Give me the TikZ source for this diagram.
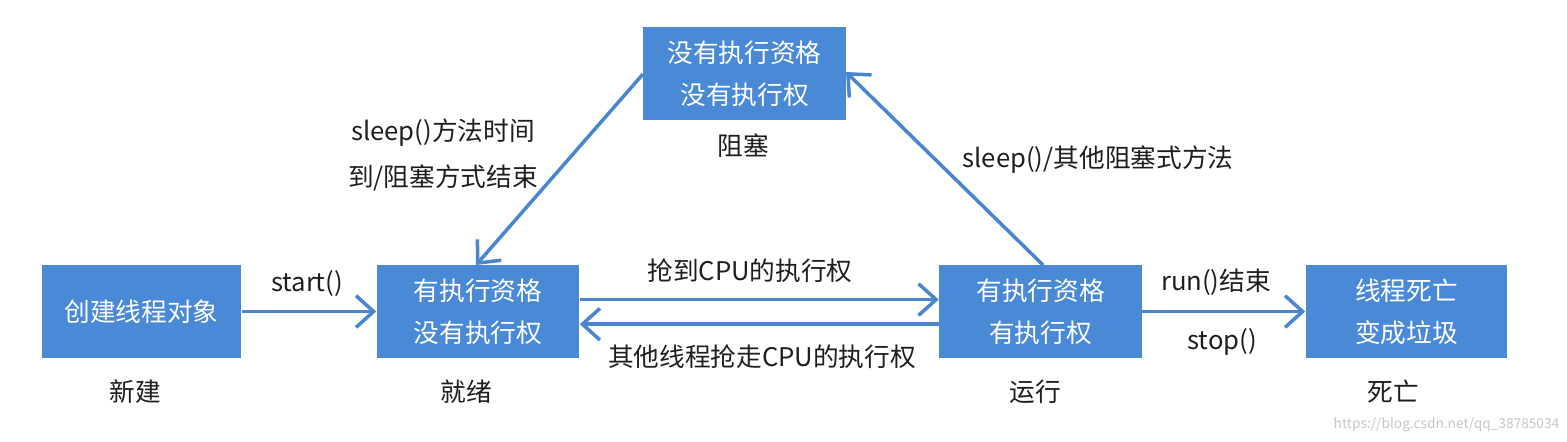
\documentclass[tikz,border=0pt]{standalone}
\usepackage{fontspec}
\setmainfont{Noto Sans CJK SC}
\usetikzlibrary{arrows.meta}
\definecolor{boxblue}{RGB}{74,137,214}
\definecolor{lineblue}{RGB}{74,134,208}
\definecolor{txt}{RGB}{30,30,30}
\tikzset{
  state/.style={draw=none,fill=boxblue,text=white,minimum width=2.02cm,minimum height=0.93cm,
    align=center,inner sep=0pt,font=\fontsize{7.3}{12}\selectfont},
  lbl/.style={text=txt,font=\fontsize{7.3}{13}\selectfont,align=center,inner sep=0pt},
  conn/.style={draw=lineblue,line width=1pt,-{Straight Barb[length=5pt,width=9pt,line width=1pt]}}
}
\begin{document}
\begin{tikzpicture}[x=0.01cm,y=-0.01cm]
\useasboundingbox (0,0) rectangle (1567,441);
\node[state,minimum width=1.99cm] (new) at (141.5,311.5) {创建线程对象};
\node[state] (ready) at (478,311.5) {有执行资格\\没有执行权};
\node[state] (run) at (1040.5,311.5) {有执行资格\\有执行权};
\node[state,minimum width=2.01cm] (dead) at (1406.5,311.5) {线程死亡\\变成垃圾};
\node[state,minimum width=2.03cm] (blk) at (744.5,73.5) {没有执行资格\\没有执行权};

\node[lbl] (lnew) at (135,392) {新建};
\node[lbl] (lready) at (466,392) {就绪};
\node[lbl] (lrun) at (1035,392) {运行};
\node[lbl] (ldead) at (1393,392) {死亡};
\node[lbl] (lblk) at (743,146) {阻塞};

\coordinate (rdTopIn) at (476,265);
\coordinate (blkL) at (643,74);
\coordinate (runTop) at (1043,265);
\coordinate (blkR) at (846,72);

\draw[conn] (new.east) -- (ready.west);
\draw[conn] ([yshift=3.4pt]ready.east) -- ([yshift=3.4pt]run.west);
\draw[conn] ([yshift=-3.6pt]run.west) -- ([yshift=-3.6pt]ready.east);
\draw[conn] (run.east) -- (dead.west);
\draw[conn] (blkL) -- (rdTopIn);
\draw[conn] (runTop) -- (blkR);

\node[lbl] (t1) at (307,283) {start()};
\node[lbl] (t2) at (750,271) {抢到CPU的执行权};
\node[lbl] (t3) at (762,357) {其他线程抢走CPU的执行权};
\node[lbl] (t4) at (1216,282) {run()结束};
\node[lbl] (t5) at (1222,342) {stop()};
\node[lbl] (t6) at (443,155) {sleep()方法时间\\到/阻塞方式结束};
\node[lbl] (t7) at (1098,160) {sleep()/其他阻塞式方法};
\node[text=black!22,font=\fontsize{3.9}{5}\selectfont,inner sep=0pt,anchor=east] (wm) at (1560,425) {https://blog.csdn.net/qq\_38785034};
\end{tikzpicture}
\end{document}
